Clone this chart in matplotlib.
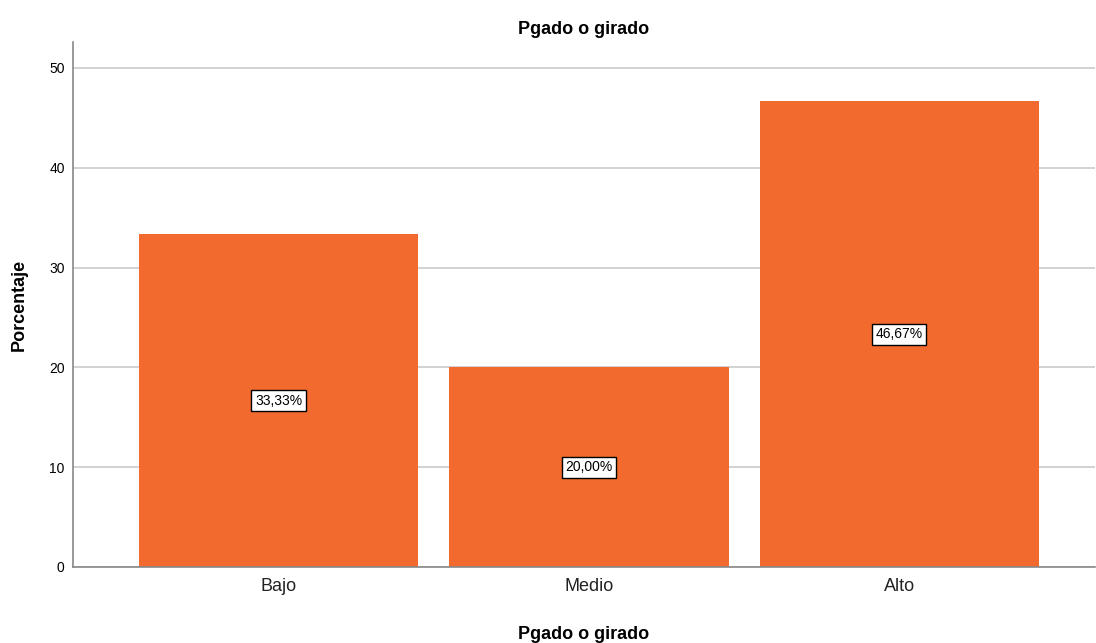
import matplotlib
matplotlib.use("Agg")
import matplotlib.pyplot as plt

plt.rcParams['font.family'] = ['Liberation Sans', 'DejaVu Sans']

categorias = ['Bajo', 'Medio', 'Alto']
porcentajes = [33.33, 20.00, 46.67]
etiquetas = ['33,33%', '20,00%', '46,67%']
yticks = [0, 10, 20, 30, 40, 50]

fig = plt.figure(figsize=(10.96, 6.43), dpi=100)
ax = fig.add_axes([0.0666, 0.1182, 0.9325, 0.8165])

x = range(len(categorias))
ax.bar(x, porcentajes, width=0.9, color='#F26A2D', zorder=2)

# etiquetas de porcentaje en el centro de cada barra
for i, v in enumerate(porcentajes):
    ax.text(i, v / 2, etiquetas[i], ha='center', va='center', fontsize=10,
            bbox=dict(boxstyle='square,pad=0.25', facecolor='white',
                      edgecolor='black', linewidth=1.0), zorder=3)

ax.set_xlim(-0.662, 2.63)
ax.set_ylim(0, 52.6)
ax.set_yticks(yticks)
ax.set_xticks(list(x))
ax.set_xticklabels(categorias, fontsize=13, color='#222222')
ax.tick_params(axis='y', labelsize=10, length=0, pad=6)
ax.tick_params(axis='x', length=0, pad=8)
ax.yaxis.grid(True, color='#CFCFCF', linewidth=1.3, zorder=0)

for s in ['top', 'right']:
    ax.spines[s].set_visible(False)
ax.spines['left'].set_color('#888888')
ax.spines['bottom'].set_color('#888888')
ax.spines['left'].set_linewidth(1.2)
ax.spines['bottom'].set_linewidth(1.2)

ax.set_title('Pgado o girado', fontsize=13, fontweight='bold', pad=6)
ax.set_xlabel('Pgado o girado', fontsize=13, fontweight='bold', labelpad=22)
ax.set_ylabel('Porcentaje', fontsize=13, fontweight='bold', labelpad=15)

fig.savefig('out.png', dpi=100)
